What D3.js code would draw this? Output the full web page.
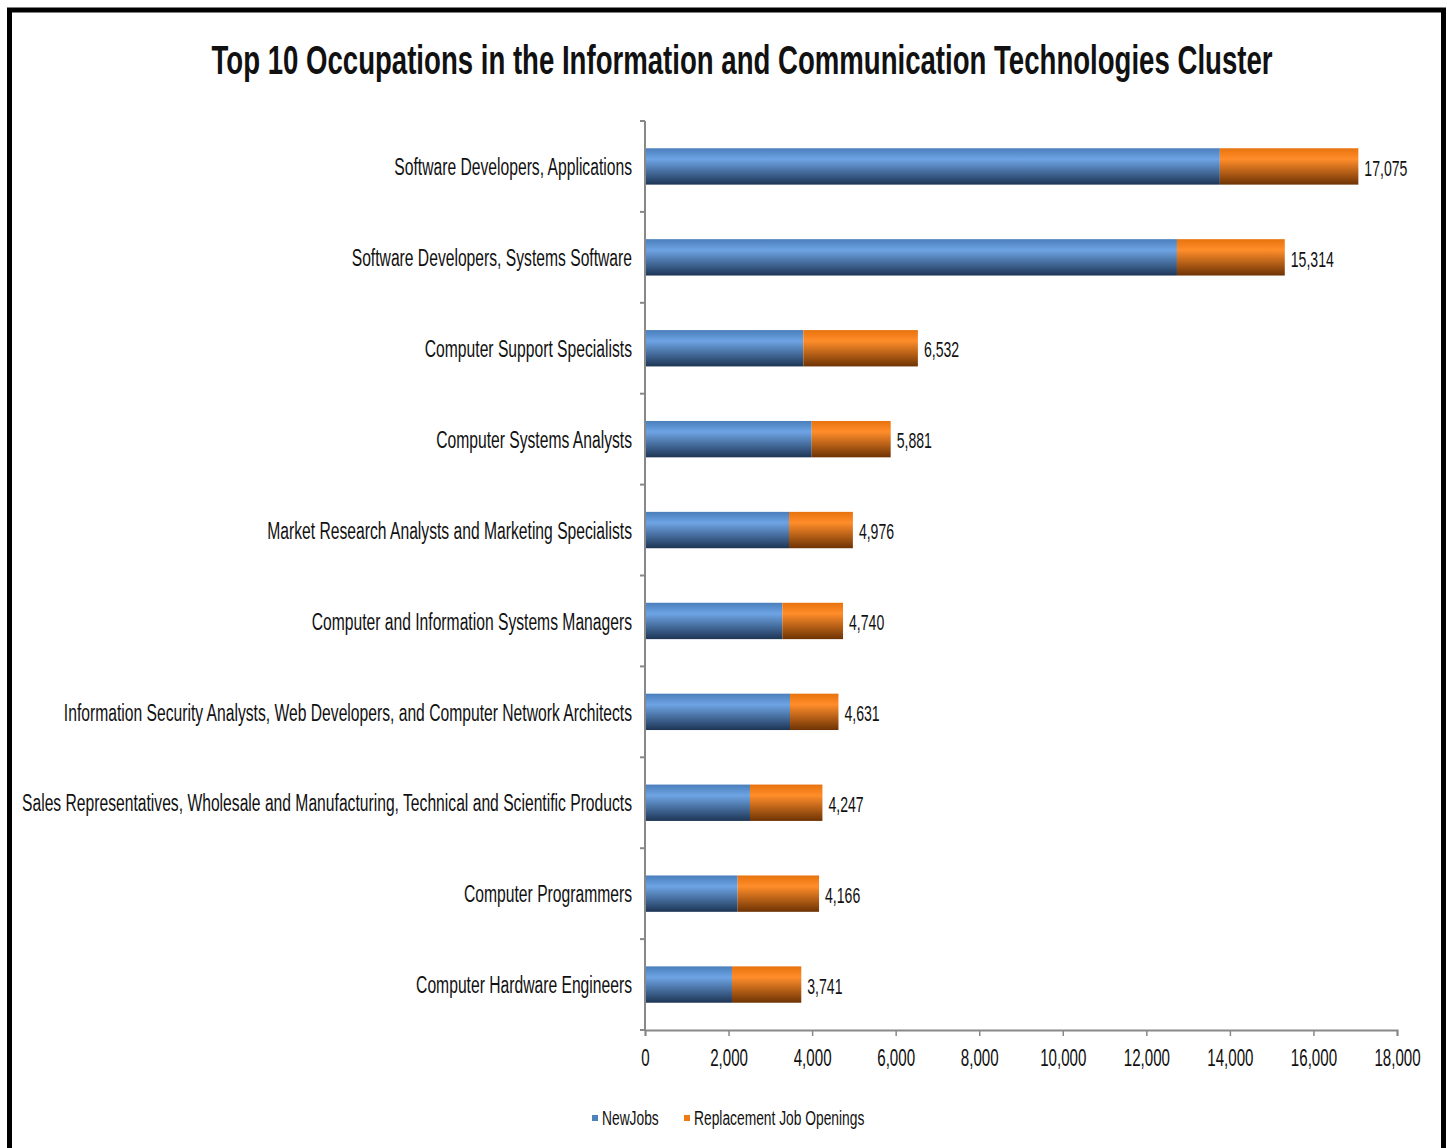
<!DOCTYPE html>
<html>
<head>
<meta charset="utf-8">
<script src="https://cdn.jsdelivr.net/npm/d3@7"></script>
<style>
  body { margin: 0; background: #fff; }
  text { font-family: "Liberation Sans", Arial, sans-serif; fill: #111; }
</style>
</head>
<body>
<div id="chart"></div>
<script>
// Data
var occupations = [
    "Software Developers, Applications",
    "Software Developers, Systems Software",
    "Computer Support Specialists",
    "Computer Systems Analysts",
    "Market Research Analysts and Marketing Specialists",
    "Computer and Information Systems Managers",
    "Information Security Analysts, Web Developers, and Computer Network Architects",
    "Sales Representatives, Wholesale and Manufacturing, Technical and Scientific Products",
    "Computer Programmers",
    "Computer Hardware Engineers"
];
var newJobs = [13760, 12733, 3790, 3990, 3447, 3287, 3471, 2513, 2218, 2082];
var replacementJobs = [3315, 2581, 2742, 1891, 1529, 1453, 1160, 1734, 1948, 1659];
var totals = [17075, 15314, 6532, 5881, 4976, 4740, 4631, 4247, 4166, 3741];
var xTicks = [0, 2000, 4000, 6000, 8000, 10000, 12000, 14000, 16000, 18000];
var seriesNames = ["NewJobs", "Replacement Job Openings"];

var svgWidth = 1447;
var svgHeight = 1148;

var svg = d3.select("#chart")
            .append("svg")
            .attr("width", svgWidth)
            .attr("height", svgHeight);

// the original text is a squeezed Arial, so narrow each text by a factor
function squeeze(sel, k) {
    sel.each(function() {
        var w = this.getComputedTextLength();
        d3.select(this)
            .attr("textLength", w * k)
            .attr("lengthAdjust", "spacingAndGlyphs");
    });
}

// gradients to mimic the shaded Excel bars
var defs = svg.append("defs");
function addGradient(id, top, mid, bottom) {
    var g = defs.append("linearGradient")
        .attr("id", id)
        .attr("x1", 0).attr("y1", 0).attr("x2", 0).attr("y2", 1);
    g.append("stop").attr("offset", "0%").attr("stop-color", top);
    g.append("stop").attr("offset", "30%").attr("stop-color", mid);
    g.append("stop").attr("offset", "100%").attr("stop-color", bottom);
}
addGradient("blueGrad", "#4a7ebb", "#6ea4e4", "#1d3555");
addGradient("orangeGrad", "#e8730e", "#ff8d2a", "#6e3304");
var colors = ["url(#blueGrad)", "url(#orangeGrad)"];
var legendColors = ["#4f81bd", "#f07a10"];

// outer frame
svg.append("rect")
    .attr("x", 9.5)
    .attr("y", 10)
    .attr("width", 1434)
    .attr("height", 1160)
    .attr("fill", "none")
    .attr("stroke", "#000")
    .attr("stroke-width", 5);

// title
svg.append("text")
    .attr("x", 742)
    .attr("y", 74)
    .attr("text-anchor", "middle")
    .style("font-size", "41px")
    .style("font-weight", "bold")
    .attr("textLength", 1061)
    .attr("lengthAdjust", "spacingAndGlyphs")
    .text("Top 10 Occupations in the Information and Communication  Technologies Cluster");

var plot = { left: 645, right: 1397, top: 121, bottom: 1030 };

var x = d3.scaleLinear()
    .domain([0, 18000])
    .range([plot.left, plot.right]);

var y = d3.scaleBand()
    .domain(occupations)
    .range([plot.top, plot.bottom])
    .paddingInner(0.6)
    .paddingOuter(0.3);

// stacked layout
var rows = occupations.map(function(name, i) {
    return { name: name, NewJobs: newJobs[i], "Replacement Job Openings": replacementJobs[i], total: totals[i] };
});
var stack = d3.stack().keys(seriesNames);
var layers = stack(rows);

var barGroups = svg.selectAll(".layer")
    .data(layers)
    .enter()
    .append("g")
    .attr("class", "layer")
    .attr("fill", function(d, i) { return colors[i]; });

barGroups.selectAll("rect")
    .data(function(d) { return d; })
    .enter()
    .append("rect")
    .attr("x", function(d) { return x(d[0]); })
    .attr("y", function(d) { return y(d.data.name); })
    .attr("width", function(d) { return x(d[1]) - x(d[0]); })
    .attr("height", y.bandwidth());

// value labels
svg.selectAll(".value")
    .data(rows)
    .enter()
    .append("text")
    .attr("class", "value")
    .attr("x", function(d) { return x(d.total) + 6; })
    .attr("y", function(d) { return y(d.name) + y.bandwidth() / 2; })
    .attr("dy", "0.42em")
    .style("font-size", "22px")
    .text(function(d) { return d3.format(",")(d.total); })
    .call(squeeze, 0.64);

// y axis: line, ticks between categories, labels
svg.append("line")
    .attr("x1", plot.left).attr("x2", plot.left)
    .attr("y1", plot.top).attr("y2", plot.bottom)
    .attr("stroke", "#888").attr("stroke-width", 2);

var boundaries = d3.range(occupations.length + 1).map(function(i) { return plot.top + i * (plot.bottom - plot.top) / occupations.length; });
svg.selectAll(".ytick")
    .data(boundaries)
    .enter()
    .append("line")
    .attr("x1", plot.left - 5).attr("x2", plot.left)
    .attr("y1", function(d) { return d; }).attr("y2", function(d) { return d; })
    .attr("stroke", "#888").attr("stroke-width", 2);

var yLabels = svg.selectAll(".ylabel")
    .data(occupations)
    .enter()
    .append("text")
    .attr("class", "ylabel")
    .attr("x", 632)
    .attr("y", function(d) { return y(d) + y.bandwidth() / 2; })
    .attr("dy", "0.38em")
    .attr("text-anchor", "end")
    .style("font-size", "23px")
    .text(function(d) { return d; });

// fit the longest label into the space the original gives it
var longest = d3.max(yLabels.nodes(), function(n) { return n.getComputedTextLength(); });
yLabels.call(squeeze, 610 / longest);

// x axis
var bottomAxis = d3.axisBottom(x)
    .tickValues(xTicks)
    .tickFormat(d3.format(","))
    .tickSizeOuter(0)
    .tickSize(6);

var xAxisGroup = svg.append("g")
    .attr("transform", "translate(0," + plot.bottom + ")")
    .call(bottomAxis);
xAxisGroup.select(".domain").attr("stroke", "#888").attr("stroke-width", 2);
xAxisGroup.selectAll(".tick line").attr("stroke", "#888").attr("stroke-width", 1.5);
xAxisGroup.selectAll(".tick text")
    .attr("y", 19)
    .style("font-family", "'Liberation Sans', Arial, sans-serif")
    .style("font-size", "24px")
    .attr("fill", "#111")
    .call(squeeze, 0.63);

// legend
var legend = svg.append("g").attr("transform", "translate(592,1118)");
var legendX = [0, 92];
seriesNames.forEach(function(name, i) {
    legend.append("rect")
        .attr("x", legendX[i])
        .attr("y", -3)
        .attr("width", 6)
        .attr("height", 6)
        .attr("fill", legendColors[i]);
    legend.append("text")
        .attr("x", legendX[i] + 10)
        .attr("y", 0)
        .attr("dy", "0.36em")
        .style("font-size", "20px")
        .text(name)
        .call(squeeze, 0.69);
});
</script>
</body>
</html>
